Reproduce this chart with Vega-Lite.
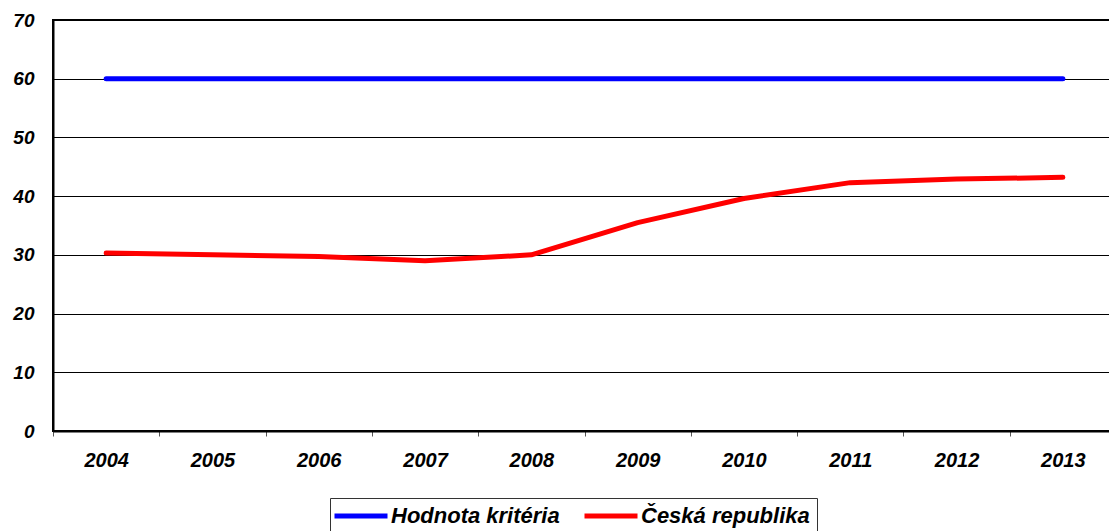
{
  "$schema": "https://vega.github.io/schema/vega-lite/v6.json",
  "autosize": "none",
  "padding": {"left": 53, "top": 20, "right": 0, "bottom": 100},
  "width": 1063,
  "height": 411,
  "background": "white",
  "config": {
    "view": {"stroke": "black", "strokeWidth": 2},
    "font": "Liberation Sans"
  },
  "data": {
    "values": [
      {"rok": "2004", "serie": "Hodnota kritéria", "hodnota": 60},
      {"rok": "2005", "serie": "Hodnota kritéria", "hodnota": 60},
      {"rok": "2006", "serie": "Hodnota kritéria", "hodnota": 60},
      {"rok": "2007", "serie": "Hodnota kritéria", "hodnota": 60},
      {"rok": "2008", "serie": "Hodnota kritéria", "hodnota": 60},
      {"rok": "2009", "serie": "Hodnota kritéria", "hodnota": 60},
      {"rok": "2010", "serie": "Hodnota kritéria", "hodnota": 60},
      {"rok": "2011", "serie": "Hodnota kritéria", "hodnota": 60},
      {"rok": "2012", "serie": "Hodnota kritéria", "hodnota": 60},
      {"rok": "2013", "serie": "Hodnota kritéria", "hodnota": 60},
      {"rok": "2004", "serie": "Česká republika", "hodnota": 30.3},
      {"rok": "2005", "serie": "Česká republika", "hodnota": 30.0},
      {"rok": "2006", "serie": "Česká republika", "hodnota": 29.7},
      {"rok": "2007", "serie": "Česká republika", "hodnota": 29.0},
      {"rok": "2008", "serie": "Česká republika", "hodnota": 30.0},
      {"rok": "2009", "serie": "Česká republika", "hodnota": 35.5},
      {"rok": "2010", "serie": "Česká republika", "hodnota": 39.6},
      {"rok": "2011", "serie": "Česká republika", "hodnota": 42.3},
      {"rok": "2012", "serie": "Česká republika", "hodnota": 42.9},
      {"rok": "2013", "serie": "Česká republika", "hodnota": 43.2}
    ]
  },
  "mark": {"type": "line", "strokeWidth": 5, "strokeCap": "round", "strokeJoin": "round"},
  "encoding": {
    "x": {
      "field": "rok",
      "type": "ordinal",
      "scale": {"paddingInner": 0, "paddingOuter": 0},
      "axis": {
        "title": null,
        "labelAngle": 0,
        "tickBand": "extent",
        "domain": true,
        "domainColor": "black",
        "domainWidth": 2,
        "ticks": true,
        "tickColor": "#555555",
        "tickSize": 5,
        "tickWidth": 1,
        "grid": false,
        "labelFont": "Liberation Sans",
        "labelFontSize": 20,
        "labelFontWeight": "bold",
        "labelFontStyle": "italic",
        "labelColor": "black",
        "labelPadding": 24,
        "labelBaseline": "middle"
      }
    },
    "y": {
      "field": "hodnota",
      "type": "quantitative",
      "scale": {"domain": [0, 70], "nice": false},
      "axis": {
        "title": null,
        "values": [0, 10, 20, 30, 40, 50, 60, 70],
        "grid": true,
        "gridColor": "black",
        "gridWidth": 1,
        "gridOpacity": 1,
        "domain": true,
        "domainColor": "black",
        "domainWidth": 2,
        "ticks": false,
        "labelFont": "Liberation Sans",
        "labelFontSize": 19,
        "labelFontWeight": "bold",
        "labelFontStyle": "italic",
        "labelColor": "black",
        "labelPadding": 19
      }
    },
    "color": {
      "field": "serie",
      "type": "nominal",
      "scale": {"domain": ["Hodnota kritéria", "Česká republika"], "range": ["#0000FF", "#FF0000"]},
      "legend": {
        "title": null,
        "orient": "none",
        "direction": "horizontal",
        "legendX": 277,
        "legendY": 478,
        "strokeColor": "#333333",
        "padding": 7,
        "fillColor": "white",
        "symbolType": "M-5.3,0H5.3",
        "symbolSize": 100,
        "symbolStrokeWidth": 5,
        "symbolOffset": 13,
        "labelFont": "Liberation Sans",
        "labelFontSize": 22,
        "labelFontWeight": "bold",
        "labelFontStyle": "italic",
        "labelColor": "black",
        "labelLimit": 300,
        "labelOffset": 19,
        "columnPadding": 14
      }
    }
  }
}
